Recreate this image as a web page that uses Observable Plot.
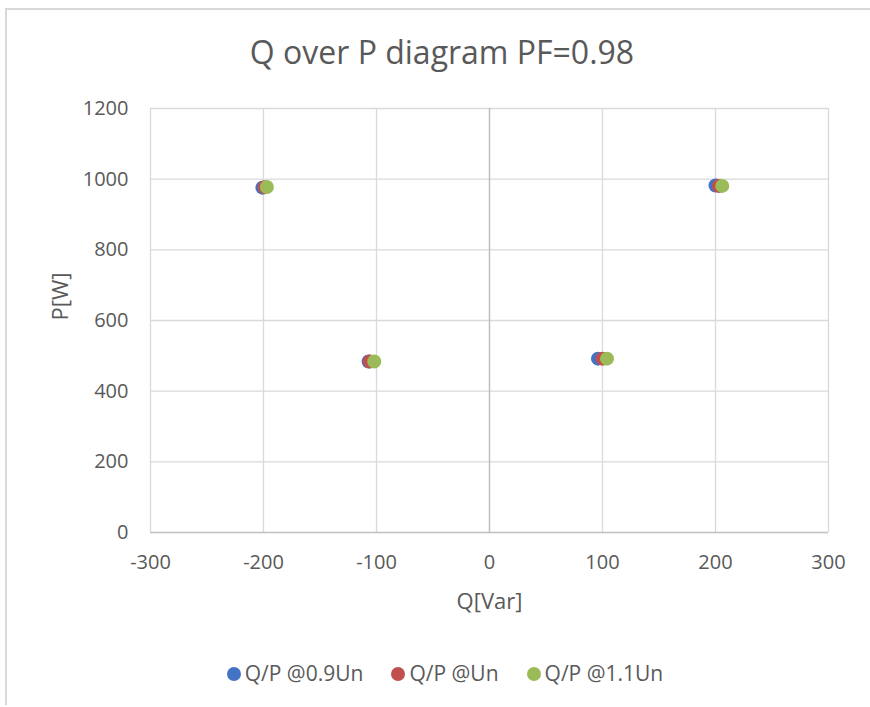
<!DOCTYPE html>
<html>
<head>
<meta charset="utf-8">
<script src="https://cdn.jsdelivr.net/npm/d3@7"></script>
<script src="https://cdn.jsdelivr.net/npm/@observablehq/plot@0.6"></script>
<style>
  html, body { margin: 0; padding: 0; background: #fff; }
  #wrap { position: relative; width: 870px; height: 707px; overflow: hidden; font-family: "Open Sans", Lato, sans-serif; }
  #frame { position: absolute; left: 5px; top: 8px; width: 900px; height: 697px; border-left: 2px solid #d9d9d9; border-top: 2px solid #d9d9d9; box-sizing: border-box; }
  #title { position: absolute; left: 0; width: 884px; top: 30px; text-align: center; font-size: 32px; color: #595959; line-height: 44px; }
  #chart { position: absolute; left: 0; top: 0; }
  #legend { position: absolute; left: 0; width: 890px; top: 659px; text-align: center; font-size: 21px; color: #595959; line-height: 28px; }
  .item { display: inline-block; margin: 0 14px; }
  .sw { display: inline-block; width: 14px; height: 14px; border-radius: 50%; margin-right: 4px; vertical-align: 0px; }
</style>
</head>
<body>
<div id="wrap">
  <div id="frame"></div>
  <div id="chart"></div>
  <div id="title">Q over P diagram PF=0.98</div>
  <div id="legend"></div>
</div>
<script>
const seriesNames = ["Q/P @0.9Un", "Q/P @Un", "Q/P @1.1Un"];
const seriesColors = ["#4472c4", "#c0504d", "#9bbb59"];
const q09 = [-201, -107, 96, 200];
const p09 = [976, 484, 492, 982];
const qUn = [-199, -106, 100, 203];
const pUn = [977, 484, 492, 981];
const q11 = [-197, -102, 104, 206];
const p11 = [978, 484, 492, 981];
const xTicks = [-300, -200, -100, 0, 100, 200, 300];
const yTicks = [0, 200, 400, 600, 800, 1000, 1200];

const qs = [q09, qUn, q11];
const ps = [p09, pUn, p11];
const data = [];
seriesNames.forEach((s, i) => qs[i].forEach((q, j) => data.push({series: s, Q: q, P: ps[i][j]})));

const fmt = d => String(d);

const plot = Plot.plot({
  width: 870,
  height: 640,
  marginTop: 108,
  marginBottom: 108,
  marginLeft: 150,
  marginRight: 42,
  style: {fontFamily: "'Open Sans', Lato, sans-serif", fontSize: "20px", color: "#595959", background: "transparent"},
  x: {domain: [-300, 300], ticks: xTicks, label: null},
  y: {domain: [0, 1200], ticks: yTicks, label: null},
  color: {domain: seriesNames, range: seriesColors},
  marks: [
    Plot.ruleX(xTicks.filter(d => d !== 0), {stroke: "#d9d9d9", strokeWidth: 1.3}),
    Plot.ruleY(yTicks.filter(d => d !== 0), {stroke: "#d9d9d9", strokeWidth: 1.3}),
    Plot.ruleX([0], {stroke: "#bfbfbf", strokeWidth: 1.5}),
    Plot.ruleY([0], {stroke: "#bfbfbf", strokeWidth: 1.5}),
    Plot.axisX({ticks: xTicks, tickFormat: fmt, tickSize: 0, tickPadding: 22, fill: "#595959", label: null, fontSize: 20}),
    Plot.axisY({ticks: yTicks, tickFormat: fmt, tickSize: 0, tickPadding: 22, fill: "#595959", label: null, fontSize: 20}),
    Plot.dot(data, {x: "Q", y: "P", fill: "series", r: 7}),
    Plot.text(["Q[Var]"], {frameAnchor: "bottom", dy: 76, fontSize: 22, fill: "#595959"}),
    Plot.text(["P[W]"], {frameAnchor: "left", dx: -90, rotate: -90, fontSize: 22, fill: "#595959"})
  ]
});
document.getElementById("chart").appendChild(plot);

const legend = document.getElementById("legend");
seriesNames.forEach((s, i) => {
  const it = document.createElement("span");
  it.className = "item";
  const sw = document.createElement("span");
  sw.className = "sw";
  sw.style.background = seriesColors[i];
  it.appendChild(sw);
  it.appendChild(document.createTextNode(s));
  legend.appendChild(it);
});
</script>
</body>
</html>
